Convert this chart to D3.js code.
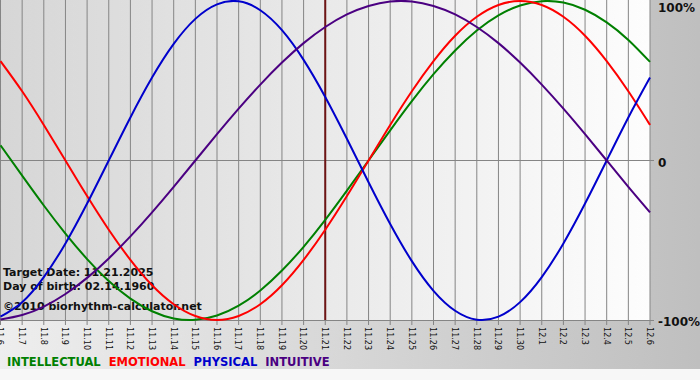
<!DOCTYPE html>
<html>
<head>
<meta charset="utf-8">
<script src="https://cdn.jsdelivr.net/npm/d3@7"></script>
<style>
  html, body { margin: 0; padding: 0; background: #f7f7f7; }
  svg { display: block; }
</style>
</head>
<body>
<div id="chart_container"></div>
<script>
// --- Data (percent, one value per day) ---
const days = ['11.6', '11.7', '11.8', '11.9', '11.10', '11.11', '11.12', '11.13', '11.14', '11.15',
    '11.16', '11.17', '11.18', '11.19', '11.20', '11.21', '11.22', '11.23', '11.24', '11.25',
    '11.26', '11.27', '11.28', '11.29', '11.30', '12.1', '12.2', '12.3', '12.4', '12.5', '12.6'];

const intellectual = [9.5, -9.5, -28.2, -45.8, -61.8, -75.6, -86.6, -94.5, -99.0, -99.9,
    -97.2, -91.0, -81.5, -69.0, -54.1, -37.2, -18.9, 0, 18.9, 37.2,
    54.1, 69.0, 81.5, 91.0, 97.2, 99.9, 99.0, 94.5, 86.6, 75.6, 61.8];
const emotional = [62.3, 43.4, 22.3, 0, -22.3, -43.4, -62.3, -78.2, -90.1, -97.5,
    -100, -97.5, -90.1, -78.2, -62.3, -43.4, -22.3, 0, 22.3, 43.4,
    62.3, 78.2, 90.1, 97.5, 100, 97.5, 90.1, 78.2, 62.3, 43.4, 22.3];
const physical = [-97.9, -88.8, -73.1, -52.0, -27.0, 0, 27.0, 52.0, 73.1, 88.8,
    97.9, 99.8, 94.2, 81.7, 63.1, 39.8, 13.6, -13.6, -39.8, -63.1,
    -81.7, -94.2, -99.8, -97.9, -88.8, -73.1, -52.0, -27.0, 0, 27.0, 52.0];
const intuitive = [-99.7, -96.9, -91.6, -83.7, -73.6, -61.4, -47.6, -32.5, -16.5, 0,
    16.5, 32.5, 47.6, 61.4, 73.6, 83.7, 91.6, 96.9, 99.7, 99.7,
    96.9, 91.6, 83.7, 73.6, 61.4, 47.6, 32.5, 16.5, 0, -16.5, -32.5];

const seriesNames = ['INTELLECTUAL', 'EMOTIONAL', 'PHYSICAL', 'INTUITIVE'];
const seriesColors = ['#008000', '#ff0000', '#0000cc', '#4b0082'];
const seriesValues = [intellectual, emotional, physical, intuitive];

const yTicks = [100, 0, -100];
const yTickLabels = ['100%', '0', '-100%'];
const targetDay = '11.21';
const infoLines = ['Target Date: 11.21.2025', 'Day of birth: 02.14.1960', '\u00a92010 biorhythm-calculator.net'];

// --- Layout ---
const width = 700, height = 380;
const plot = { left: 0, top: 0, right: 650, bottom: 320 };

const svg = d3.select('#chart_container').append('svg')
    .attr('width', width)
    .attr('height', height);

const defs = svg.append('defs');
const panelGrad = defs.append('linearGradient').attr('id', 'panelGrad');
panelGrad.append('stop').attr('offset', '0%').attr('stop-color', '#eeeeee');
panelGrad.append('stop').attr('offset', '100%').attr('stop-color', '#bfbfbf');
const plotGrad = defs.append('linearGradient').attr('id', 'plotGrad');
plotGrad.append('stop').attr('offset', '0%').attr('stop-color', '#d6d6d6');
plotGrad.append('stop').attr('offset', '100%').attr('stop-color', '#fdfdfd');

svg.append('rect')
    .attr('x', 0).attr('y', 0)
    .attr('width', width).attr('height', 369)
    .attr('fill', 'url(#panelGrad)');

svg.append('rect')
    .attr('x', plot.left).attr('y', plot.top)
    .attr('width', plot.right - plot.left).attr('height', plot.bottom - plot.top)
    .attr('fill', 'url(#plotGrad)');

// scales
const x = d3.scalePoint().domain(days).range([0.5, 650]);
const y = d3.scaleLinear().domain([-100, 100]).range([320, 1]);

// vertical grid + ticks
svg.append('g')
    .selectAll('line')
    .data(days)
    .join('line')
    .attr('x1', d => x(d)).attr('x2', d => x(d))
    .attr('y1', plot.top).attr('y2', plot.bottom + 5)
    .attr('stroke', '#858585')
    .attr('stroke-width', 1);

// zero line + axis line
svg.append('line')
    .attr('x1', plot.left).attr('x2', plot.right + 4)
    .attr('y1', y(0)).attr('y2', y(0))
    .attr('stroke', '#858585');
svg.append('line')
    .attr('x1', plot.left).attr('x2', plot.right + 4)
    .attr('y1', plot.bottom + 0.5).attr('y2', plot.bottom + 0.5)
    .attr('stroke', '#858585');

// x tick labels (rotated)
svg.append('g')
    .selectAll('text')
    .data(days)
    .join('text')
    .attr('transform', d => `translate(${x(d)},327) rotate(90)`)
    .attr('dy', '0.35em')
    .attr('font-family', 'DejaVu Sans Condensed, DejaVu Sans, sans-serif')
    .attr('font-size', 9)
    .attr('fill', '#111')
    .text(d => d);

// y labels
svg.append('g')
    .selectAll('text')
    .data(yTicks)
    .join('text')
    .attr('x', 658)
    .attr('y', d => Math.max(12, y(d) + 6))
    .attr('font-family', 'DejaVu Sans, sans-serif')
    .attr('font-weight', 'bold')
    .attr('font-size', 12)
    .attr('fill', '#111')
    .text((d, i) => yTickLabels[i]);

// info text (under the curves)
svg.append('g')
    .selectAll('text')
    .data(infoLines)
    .join('text')
    .attr('x', 3)
    .attr('y', (d, i) => [276, 290, 310][i])
    .attr('font-family', 'DejaVu Sans, sans-serif')
    .attr('font-weight', 'bold')
    .attr('font-size', 11)
    .attr('fill', '#111')
    .text(d => d);

// target date line
svg.append('line')
    .attr('x1', x(targetDay)).attr('x2', x(targetDay))
    .attr('y1', plot.top).attr('y2', plot.bottom)
    .attr('stroke', '#6e1414')
    .attr('stroke-width', 2);

// curves
const line = d3.line()
    .x((d, i) => x(days[i]))
    .y(d => y(d))
    .curve(d3.curveNatural);

svg.append('g')
    .selectAll('path')
    .data(seriesValues)
    .join('path')
    .attr('fill', 'none')
    .attr('stroke', (d, i) => seriesColors[i])
    .attr('stroke-width', 2)
    .attr('d', line);

// legend
const legend = svg.append('g').attr('transform', 'translate(7,366)');
let lx = 0;
seriesNames.forEach((name, i) => {
    const t = legend.append('text')
        .attr('x', lx)
        .attr('font-family', 'DejaVu Sans Condensed, DejaVu Sans, sans-serif')
        .attr('font-weight', 'bold')
        .attr('font-size', 12.8)
        .attr('fill', seriesColors[i])
        .text(name);
    lx += t.node().getComputedTextLength() + 8;
});
</script>
</body>
</html>
